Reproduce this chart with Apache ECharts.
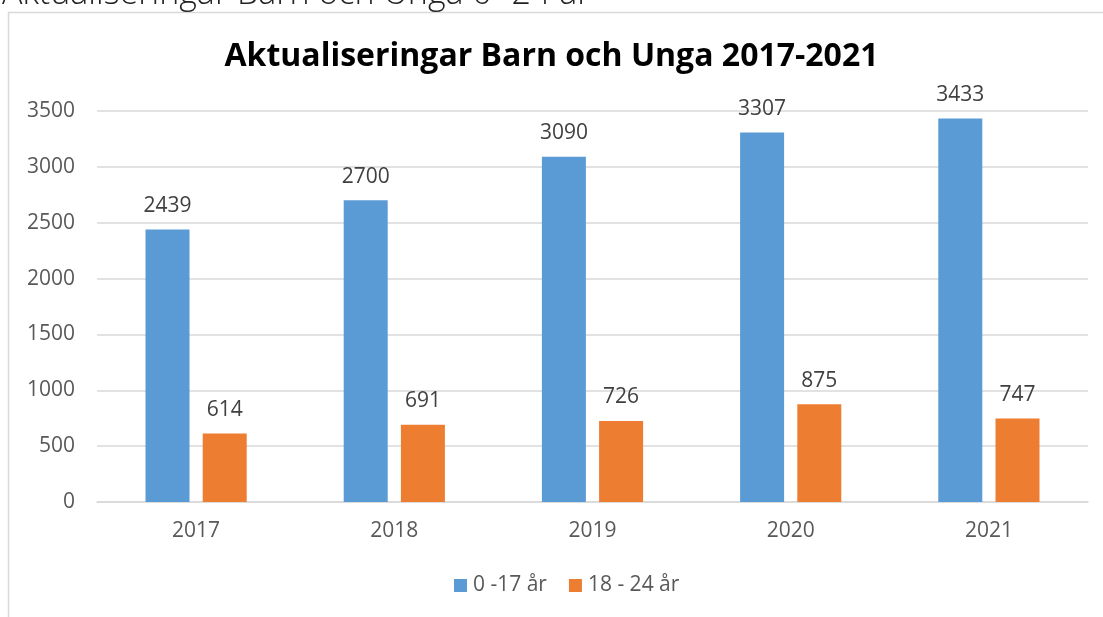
<!DOCTYPE html>
<html lang="sv">
<head>
    <meta charset="UTF-8">
    <title>Aktualiseringar Barn och Unga</title>
    <script src="https://cdn.jsdelivr.net/npm/echarts@6/dist/echarts.min.js"></script>
    <style>
        html, body { margin: 0; padding: 0; background: #fff; }
        #chart { width: 1103px; height: 617px; }
    </style>
</head>
<body>
<div id="chart"></div>
<script type="text/javascript">
    // data
    var years = ['2017', '2018', '2019', '2020', '2021'];
    var barn = [2439, 2700, 3090, 3307, 3433];      // 0 -17 år
    var unga = [614, 691, 726, 875, 747];           // 18 - 24 år
    var seriesNames = ['0 -17 år', '18 - 24 år'];

    var font = '"Open Sans", sans-serif';
    var chart = echarts.init(document.getElementById('chart'));

    var labelStyle = {
        show: true,
        position: 'top',
        distance: 13,
        color: '#404040',
        fontSize: 21,
        fontFamily: font
    };

    var option = {
        animation: false,
        graphic: [
            // ram runt diagrammet
            {
                type: 'rect',
                shape: { x: 8.5, y: 12.5, width: 1200, height: 700 },
                style: { fill: 'none', stroke: '#d9d9d9', lineWidth: 1.5 }
            },
            // avklippt rubrik ovanför ramen
            {
                type: 'text',
                x: 2,
                y: 11,
                style: {
                    text: 'Aktualiseringar Barn och Unga 0 -24 år',
                    fontSize: 34,
                    fontWeight: 300,
                    fontFamily: font,
                    fill: '#222',
                    verticalAlign: 'bottom'
                }
            }
        ],
        title: {
            text: 'Aktualiseringar Barn och Unga 2017-2021',
            left: 'center',
            top: 36,
            textStyle: {
                fontSize: 32,
                fontWeight: 'bold',
                color: '#000',
                fontFamily: font
            }
        },
        legend: {
            bottom: 16,
            left: 449,
            itemWidth: 13,
            itemHeight: 13,
            itemGap: 22,
            icon: 'rect',
            textStyle: { fontSize: 21, color: '#595959', fontFamily: font, padding: [0, 0, 0, 1] },
            data: seriesNames
        },
        grid: {
            left: 97,
            right: 15,
            top: 111,
            bottom: 115
        },
        xAxis: {
            type: 'category',
            data: years,
            axisLine: { lineStyle: { color: '#d9d9d9', width: 1.5 } },
            axisTick: { show: false },
            axisLabel: { color: '#595959', fontSize: 21, margin: 19, fontFamily: font }
        },
        yAxis: {
            type: 'value',
            min: 0,
            max: 3500,
            interval: 500,
            axisLine: { show: false },
            axisTick: { show: false },
            axisLabel: {
                color: '#595959',
                fontSize: 21,
                margin: 22,
                fontFamily: font,
                formatter: function (v) { return String(v); }
            },
            splitLine: { lineStyle: { color: '#d9d9d9', width: 1.5 } }
        },
        series: [
            {
                name: seriesNames[0],
                type: 'bar',
                data: barn,
                barWidth: 44,
                barGap: '30%',
                itemStyle: { color: '#5B9BD5' },
                label: labelStyle
            },
            {
                name: seriesNames[1],
                type: 'bar',
                data: unga,
                barWidth: 44,
                barGap: '30%',
                itemStyle: { color: '#ED7D31' },
                label: labelStyle
            }
        ]
    };

    chart.setOption(option);
</script>
</body>
</html>
